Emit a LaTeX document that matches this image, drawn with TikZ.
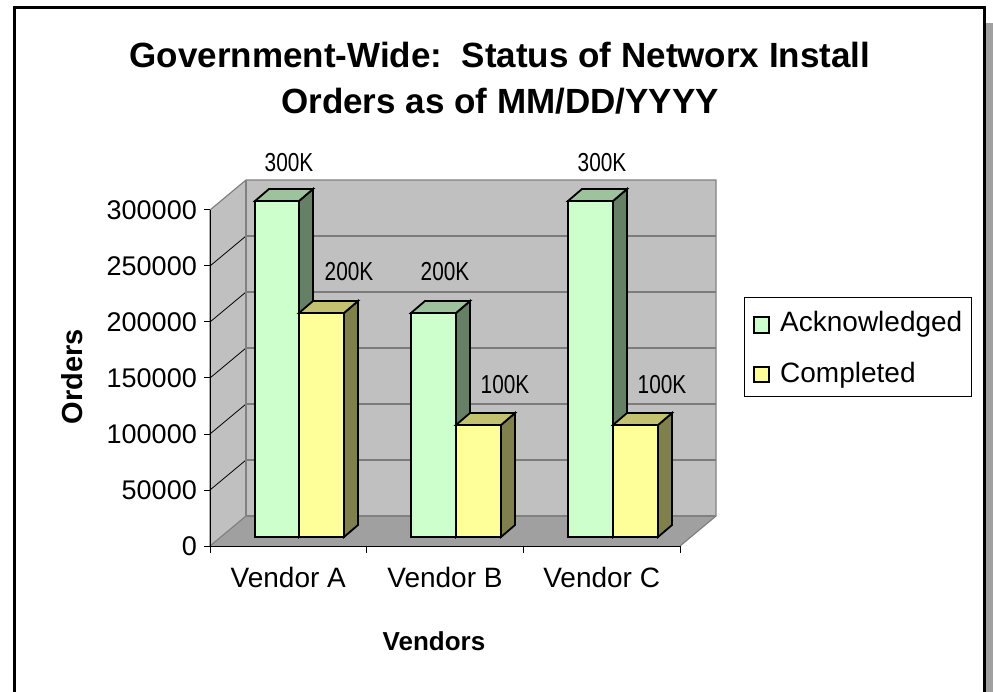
\documentclass[tikz,border=0pt]{standalone}
\usepackage{fontspec}
\usepackage{graphicx}
\setmainfont{Liberation Sans}
\definecolor{wallgray}{HTML}{C0C0C0}
\definecolor{floorgray}{HTML}{A0A0A0}
\definecolor{edgegray}{HTML}{808080}
\definecolor{gfront}{HTML}{CCFFCC}
\definecolor{gtop}{HTML}{9CC39C}
\definecolor{gside}{HTML}{668066}
\definecolor{yfront}{HTML}{FFFF99}
\definecolor{ytop}{HTML}{C2C271}
\definecolor{yside}{HTML}{80804F}
\newcommand\drawbarbox[6]{%
  \filldraw[barline, fill=#6] (#2,537) -- (#2+14,525) -- (#2+14,#3-12) -- (#2,#3) -- cycle;
  \filldraw[barline, fill=#5] (#1,#3) -- (#1+14,#3-12) -- (#2+14,#3-12) -- (#2,#3) -- cycle;
  \filldraw[barline, fill=#4] (#1,#3) rectangle (#2,537);
}
\begin{document}
\begin{tikzpicture}[x=1pt,y=-1pt,
  barline/.style={draw=black, line width=1.8pt, line join=miter},
  grid/.style={draw=black, line width=0.8pt},
  wedge/.style={draw=edgegray, line width=1.2pt},
  ticklbl/.style={anchor=east, inner sep=0pt, font=\fontsize{27}{27}\selectfont},
  catlbl/.style={inner sep=0pt, font=\fontsize{28}{28}\selectfont},
  vallbl/.style={inner sep=0pt, font=\fontsize{26}{26}\selectfont},
  titlelbl/.style={anchor=base, inner sep=0pt, font=\bfseries\fontsize{35}{35}\selectfont},
  leglbl/.style={anchor=base west, inner sep=0pt, font=\fontsize{28}{28}\selectfont},
  legsq/.style={draw=black, line width=1.5pt}
]
\useasboundingbox (0,0) rectangle (993,692);
\clip (0,0) rectangle (993,692);
\fill[white] (0,0) rectangle (993,692);
% shadow and frame
\fill[floorgray] (986,23) rectangle (993,692);
\draw[line width=3pt] (14,8) rectangle (984,710);
% title
\node[titlelbl] (t1) at (500,68) {Government-Wide:~~Status of Networx Install};
\node[titlelbl] (t2) at (500,114) {Orders as of MM/DD/YYYY};
% walls and floor
\fill[wallgray] (210,546) -- (210,210) -- (246,180) -- (246,516) -- cycle;
\fill[wallgray] (246,180) rectangle (716,516);
\fill[floorgray] (210,546) -- (680,546) -- (716,516) -- (246,516) -- cycle;
\foreach \v in {1,...,5}{
  \draw[grid] (210,546-56*\v) -- (246,516-56*\v) -- (716,516-56*\v);
}
\draw[wedge] (210,546) -- (210,210) -- (246,180) -- (716,180) -- (716,516) -- (680,546);
\draw[wedge] (246,180) -- (246,516) -- (716,516);
\draw[wedge] (210,546) -- (246,516);
% axes
\draw[black, line width=1pt] (210,210) -- (210,546) -- (680,546);
\foreach \v in {0,...,6}{
  \draw[black, line width=1pt] (204,546-56*\v) -- (210,546-56*\v);
}
\foreach \x in {210,366.7,523.3,680}{
  \draw[black, line width=1pt] (\x,546) -- (\x,553);
}
% tick labels
\node[ticklbl] (y0) at (197,546) {0};
\node[ticklbl] (y1) at (197,490) {50000};
\node[ticklbl] (y2) at (197,434) {100000};
\node[ticklbl] (y3) at (197,378) {150000};
\node[ticklbl] (y4) at (197,322) {200000};
\node[ticklbl] (y5) at (197,266) {250000};
\node[ticklbl] (y6) at (197,210) {300000};
% bars
\drawbarbox{255}{299}{201}{gfront}{gtop}{gside}
\drawbarbox{299}{344}{313}{yfront}{ytop}{yside}
\drawbarbox{411}{456}{313}{gfront}{gtop}{gside}
\drawbarbox{456}{501}{425}{yfront}{ytop}{yside}
\drawbarbox{568}{613}{201}{gfront}{gtop}{gside}
\drawbarbox{613}{658}{425}{yfront}{ytop}{yside}
% value labels
\node[vallbl] (va1) at (289,163) {\scalebox{0.8}[1]{300K}};
\node[vallbl] (va2) at (349,272) {\scalebox{0.8}[1]{200K}};
\node[vallbl] (vb1) at (445,272) {\scalebox{0.8}[1]{200K}};
\node[vallbl] (vb2) at (505,385) {\scalebox{0.8}[1]{100K}};
\node[vallbl] (vc1) at (602,163) {\scalebox{0.8}[1]{300K}};
\node[vallbl] (vc2) at (662,385) {\scalebox{0.8}[1]{100K}};
% category labels
\node[catlbl] (ca) at (288.3,577) {Vendor A};
\node[catlbl] (cb) at (445,577) {Vendor B};
\node[catlbl] (cc) at (601.7,577) {Vendor C};
% axis titles
\node[inner sep=0pt, font=\bfseries\fontsize{26}{26}\selectfont] (xt) at (434,641) {Vendors};
\node[inner sep=0pt, rotate=90, font=\bfseries\fontsize{29}{29}\selectfont] (yt) at (72,377) {Orders};
% legend
\draw[black, line width=0.8pt, fill=white] (744,297) rectangle (971,396);
\filldraw[legsq, fill=gfront] (754,317) rectangle (769,333);
\filldraw[legsq, fill=yfront] (754,367) rectangle (769,382);
\node[leglbl] (l1) at (780,332) {Acknowledged};
\node[leglbl] (l2) at (780,382) {Completed};
\end{tikzpicture}
\end{document}
